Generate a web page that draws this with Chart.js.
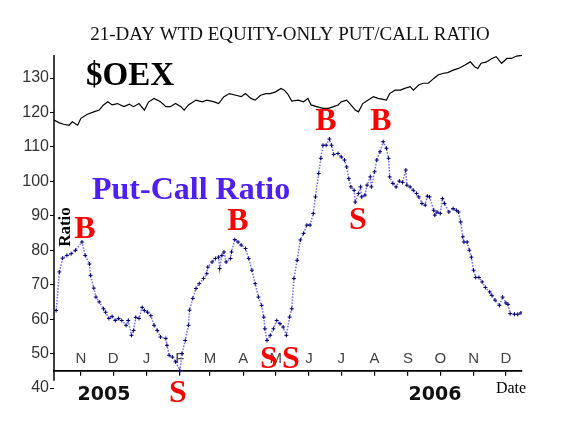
<!DOCTYPE html>
<html>
<head>
<meta charset="utf-8">
<script src="https://cdn.jsdelivr.net/npm/chart.js@4.4.1/dist/chart.umd.min.js"></script>
<style>
  html, body { margin: 0; padding: 0; background: #fff; }
  #wrap { width: 576px; height: 432px; }
</style>
</head>
<body>
<div id="wrap"><canvas id="pcChart" width="576" height="432"></canvas></div>
<script>
// x values are calendar days counted from early October 2005
const monthDays = [25, 55, 86, 117, 145, 176, 206, 237, 267, 298, 329, 359, 390, 420];
const monthLabels = ["N", "D", "J", "F", "M", "A", "M", "J", "J", "A", "S", "O", "N", "D"];
const yTickValues = [40, 50, 60, 70, 80, 90, 100, 110, 120, 130];

// 21-day weighted equity-only put/call ratio
const ratioDays = [
  2, 5, 8, 12, 16, 20, 26, 29, 33, 34, 37, 39, 42, 46, 48, 51, 54, 57, 60, 63,
  67, 69, 72, 74, 76, 79, 82, 84, 87, 90, 93, 96, 99, 104, 105, 107, 110, 113, 117, 119,
  122, 125, 126, 129, 132, 135, 139, 142, 143, 147, 150, 153, 154, 156, 158, 160, 164, 165, 168, 171,
  174, 178, 181, 184, 187, 190, 193, 195, 196, 198, 201, 204, 207, 210, 213, 216, 219, 221, 223, 226,
  229, 232, 235, 238, 241, 243, 246, 248, 250, 253, 256, 258, 260, 264, 267, 270, 272, 274, 276, 279,
  280, 283, 285, 286, 289, 291, 294, 295, 298, 300, 303, 306, 309, 311, 312, 315, 318, 321, 324, 327,
  328, 331, 334, 337, 339, 342, 345, 347, 349, 353, 354, 356, 359, 361, 363, 367, 371, 374, 376, 378,
  380, 381, 384, 386, 388, 390, 392, 395, 398, 401, 405, 407, 410, 414, 417, 420, 422, 424, 428, 431,
  434
];
const ratioValues = [
  62.5, 73.7, 77.7, 78.5, 79, 80, 82.4, 78.5, 76, 72.7, 69, 66.4, 65, 63, 62, 60.2, 60.8, 59.6, 60.2, 59.6,
  58.2, 59.6, 55.3, 56.7, 60.5, 60.2, 63.4, 62.5, 62, 61, 58.2, 56.7, 54.8, 54.4, 52.4, 49.5, 49, 47.6, 45.1, 50,
  53.8, 58.2, 62.6, 66, 68.9, 70.3, 71.8, 73.2, 75.1, 76.6, 77.6, 78, 74.7, 78.5, 79.5, 76.6, 77.6, 79.5, 83.1, 82.4,
  81.5, 80.5, 77.6, 74.2, 70.3, 66.4, 64, 60.6, 57.2, 53.8, 55.3, 57.2, 59.6, 58.7, 57.7, 55.3, 60.6, 63, 71.8, 77.1,
  83, 84.9, 87.3, 87.3, 90.7, 95.5, 102.3, 106.7, 110.5, 110.5, 112.3, 110.5, 107.8, 108.1, 107.1, 106.2, 104.2, 100.8, 98.4, 97.4,
  94, 96.5, 98.4, 95.5, 96, 98.9, 101.3, 98.4, 102.8, 106.2, 108.6, 111.5, 109.6, 106.7, 101.3, 99.4, 98.4, 100.1, 99.7, 103.3,
  98.9, 98.4, 97.4, 96.5, 95.5, 93.6, 93.1, 95.7, 95.5, 91.6, 90.2, 91.1, 90.7, 95, 93.6, 91.1, 92.1, 91.6, 91.1, 88.2,
  83.9, 82.4, 82.4, 80, 78, 74.2, 72.1, 72.1, 70.8, 69.2, 67.9, 66.9, 65.5, 64, 66.4, 64.7, 64.3, 61.6, 61.4, 61.4,
  61.8
];

// $OEX index (scaled)
const oexDays = [
  0, 5, 9, 14, 17, 22, 25, 31, 37, 42, 46, 50, 54, 59, 65, 70, 74, 79, 84, 88,
  93, 99, 104, 108, 113, 118, 121, 125, 132, 138, 142, 149, 153, 158, 163, 169, 174, 178, 183, 187,
  192, 197, 201, 206, 211, 214, 217, 221, 227, 232, 236, 239, 244, 250, 255, 260, 264, 267, 272, 275,
  280, 283, 287, 292, 297, 301, 306, 309, 312, 317, 322, 326, 331, 334, 339, 343, 348, 353, 357, 362,
  366, 371, 376, 382, 387, 391, 394, 397, 402, 407, 411, 416, 421, 425, 430, 435
];
const oexValues = [
  117.8, 117, 116.6, 116.3, 117.3, 116.3, 118.3, 119.5, 120.2, 120.7, 122.2, 123.1, 122.2, 122.6, 121.7, 122.4, 121.7, 122.6, 120.7, 123.1,
  124.1, 123.1, 121.7, 121.7, 122.6, 121.7, 120.7, 122.2, 123.6, 123.1, 123.6, 123.1, 122.6, 124.6, 125.5, 125, 124.6, 125.5, 124.1, 123.6,
  125, 125.5, 125.5, 126, 127, 126.5, 125.5, 123.3, 123.6, 123.1, 124.1, 122.2, 121.7, 121.2, 121.2, 121.7, 122.2, 123.1, 123.6, 122.6,
  120.7, 120.2, 122.6, 123.6, 124.6, 124.1, 123.8, 123.6, 125.5, 126.5, 126.5, 127, 127.5, 126.5, 128, 128.5, 128.5, 129.9, 130.9, 131.4,
  131.6, 132.3, 132.8, 133.8, 134.7, 133.3, 132.8, 134.3, 134.7, 135.7, 136.2, 134.3, 135.7, 135.7, 136.4, 136.6
];

const xAxisAt = 45.1;

function pairs(xs, ys) {
  return xs.map((x, i) => ({ x: x, y: ys[i] }));
}

// title, axis line, free text and B/S signal letters
const annotations = {
  id: "annotations",
  afterDraw(chart) {
    const ctx = chart.ctx;
    const area = chart.chartArea;
    const yScale = chart.scales.y;
    ctx.save();

    // vertical axis line stops a little below the date axis
    ctx.strokeStyle = "#000";
    ctx.lineWidth = 1.5;
    ctx.beginPath();
    ctx.moveTo(area.left, area.top);
    ctx.lineTo(area.left, yScale.getPixelForValue(42.1));
    ctx.stroke();

    ctx.textBaseline = "middle";
    ctx.textAlign = "center";
    ctx.fillStyle = "#111";
    ctx.font = "19px 'Liberation Serif'";
    ctx.fillText("21-DAY WTD EQUITY-ONLY PUT/CALL RATIO", 290, 35);

    ctx.fillStyle = "#000";
    ctx.font = "bold 33px 'Liberation Serif'";
    ctx.textAlign = "left";
    ctx.fillText("$OEX", 86, 76);

    ctx.fillStyle = "#4d1ff2";
    ctx.font = "bold 32px 'Liberation Serif'";
    ctx.fillText("Put-Call Ratio", 92, 191);

    ctx.textAlign = "center";
    ctx.fillStyle = "#000";
    ctx.font = "16px 'Liberation Serif'";
    ctx.fillText("Date", 511, 389);

    ctx.fillStyle = "#111";
    ctx.font = "bold 19px 'DejaVu Sans'";
    ctx.fillText("2005", 104, 395);
    ctx.fillText("2006", 435, 395);

    ctx.save();
    ctx.translate(66, 227);
    ctx.rotate(-Math.PI / 2);
    ctx.fillStyle = "#000";
    ctx.font = "bold 17px 'Liberation Serif'";
    ctx.fillText("Ratio", 0, 0);
    ctx.restore();

    ctx.fillStyle = "#ff0000";
    ctx.font = "bold 32px 'Liberation Serif'";
    const letters = [
      ["B", 85, 230], ["B", 238, 222], ["B", 326, 122], ["B", 381, 122],
      ["S", 358, 221], ["S", 178, 394], ["S", 269, 360], ["S", 291, 360]
    ];
    letters.forEach(([t, x, y]) => ctx.fillText(t, x, y));

    ctx.restore();
  }
};

new Chart(document.getElementById("pcChart"), {
  type: "line",
  data: {
    datasets: [
      {
        label: "$OEX",
        data: pairs(oexDays, oexValues),
        borderColor: "#000",
        borderWidth: 1.2,
        pointRadius: 0,
        tension: 0,
      },
      {
        label: "Put-Call Ratio",
        data: pairs(ratioDays, ratioValues),
        borderColor: "rgba(90, 80, 240, 0.85)",
        borderWidth: 1.5,
        borderDash: [1.5, 1.5],
        pointStyle: "cross",
        pointRadius: 2,
        pointBorderColor: "#000070",
        pointBorderWidth: 1,
        tension: 0,
      },
    ],
  },
  options: {
    responsive: false,
    animation: false,
    layout: { padding: { left: 0, right: 54, top: 55, bottom: 44 } },
    plugins: {
      legend: { display: false },
      tooltip: { enabled: false },
      title: { display: false },
    },
    scales: {
      x: {
        type: "linear",
        position: { y: xAxisAt },
        min: 0,
        max: 435,
        afterFit(scale) { scale.height = 0; },
        afterBuildTicks(scale) {
          scale.ticks = monthDays.map((v) => ({ value: v }));
        },
        grid: { drawOnChartArea: false, color: "#000", tickLength: 4, lineWidth: 1.2 },
        border: { color: "#000", width: 1.8 },
        ticks: {
          autoSkip: false,
          maxRotation: 0,
          padding: -25,
          color: "#444",
          font: { family: "'Liberation Sans'", size: 15 },
          callback: (value, i) => monthLabels[i],
        },
      },
      y: {
        min: 40,
        max: 136.7,
        afterFit(scale) { scale.width = 54; },
        afterBuildTicks(scale) {
          scale.ticks = yTickValues.map((v) => ({ value: v }));
        },
        grid: { drawOnChartArea: false, color: "#000", tickLength: 4 },
        border: { display: false },
        ticks: {
          padding: 1,
          color: "#333",
          font: { family: "'Liberation Sans'", size: 16 },
        },
      },
    },
  },
  plugins: [annotations],
});
</script>
</body>
</html>
